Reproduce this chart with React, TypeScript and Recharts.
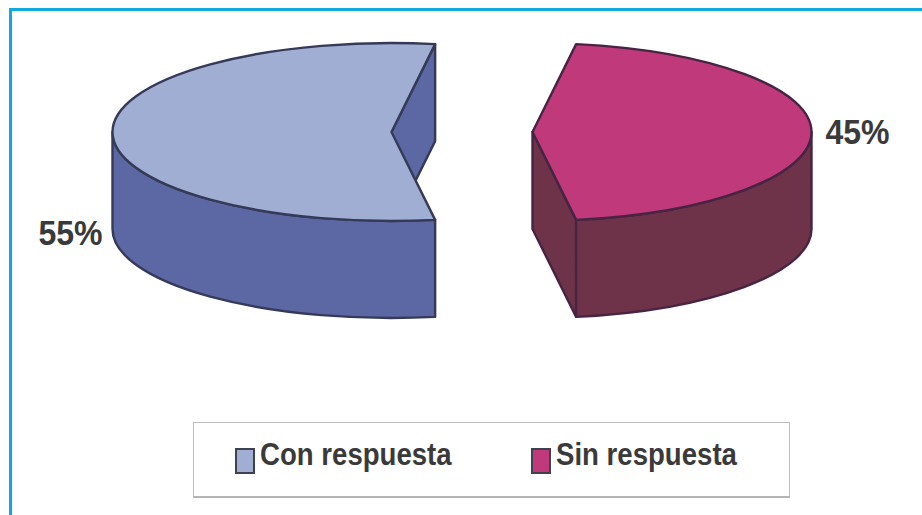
import React from 'react';
import { PieChart, Pie, Cell, Legend } from 'recharts';

const categories = ['Con respuesta', 'Sin respuesta'];
const values = [55, 45];

const COLORS = ['#9FAED2', '#C0397B'];
const SIDE_COLORS: Record<string, string> = { '#9FAED2': '#5C68A4', '#C0397B': '#6E3349' };
const EDGE_COLORS: Record<string, string> = { '#9FAED2': '#363A58', '#C0397B': '#472443' };
const SWATCH_LEFT = [41, 337];
const TEXT_LEFT = [66, 362];

const chartData = categories.map((name, i) => ({ name, value: values[i] }));

const SQUASH = 89 / 279;
const DEPTH = 97;
const EXPLODE = 70.5;
const RAD = Math.PI / 180;

// flat circle -> tilted disc, extruded downwards
function SliceShape(props: any) {
  const { cx, cy, startAngle, endAngle, outerRadius, fill } = props;
  const rx = outerRadius;
  const ry = outerRadius * SQUASH;
  const mid = ((startAngle + endAngle) / 2) * RAD;
  const ox = cx + EXPLODE * Math.cos(mid);
  const oy = cy - EXPLODE * Math.sin(mid) * SQUASH;
  const at = (deg: number) => [ox + rx * Math.cos(deg * RAD), oy - ry * Math.sin(deg * RAD)];
  const side = SIDE_COLORS[fill];
  const edge = EDGE_COLORS[fill];

  const [sx, sy] = at(startAngle);
  const [ex, ey] = at(endAngle);
  const large = endAngle - startAngle > 180 ? 1 : 0;
  const top = `M${ox},${oy} L${sx},${sy} A${rx},${ry} 0 ${large} 0 ${ex},${ey} Z`;

  const wallFrom = Math.max(startAngle, 180);
  const wallTo = Math.min(endAngle, 360);
  const [ax, ay] = at(wallFrom);
  const [bx, by] = at(wallTo);
  const wall = `M${ax},${ay} A${rx},${ry} 0 0 0 ${bx},${by} L${bx},${by + DEPTH} A${rx},${ry} 0 0 1 ${ax},${ay + DEPTH} Z`;

  // the cut faces that look towards the viewer
  const cut = (x: number, y: number) =>
    `M${ox},${oy} L${x},${y} L${x},${y + DEPTH} L${ox},${oy + DEPTH} Z`;
  const faces: string[] = [];
  if (Math.cos(startAngle * RAD) > 0) faces.push(cut(sx, sy));
  if (Math.cos(endAngle * RAD) < 0) faces.push(cut(ex, ey));

  return (
    <g stroke={edge} strokeWidth={2.4} strokeLinejoin="round">
      {faces.map((d, i) => (
        <path key={i} d={d} fill={side} />
      ))}
      <path d={wall} fill={side} />
      <path d={top} fill={fill} />
    </g>
  );
}

function PercentLabel(props: any) {
  const { cx, cy, midAngle, outerRadius, percent } = props;
  const isLeft = Math.cos(midAngle * RAD) < 0;
  const x = isLeft ? cx - EXPLODE - outerRadius - 10 : cx + EXPLODE + outerRadius + 14;
  const y = isLeft ? cy + 100 : cy - 1;
  return (
    <text
      transform={`translate(${x} ${y}) scale(0.89 1)`}
      textAnchor={isLeft ? 'end' : 'start'}
      dominantBaseline="central"
      fontFamily="Liberation Sans"
      fontWeight={700}
      fontSize={36}
      fill="#3A3A3A"
      stroke="none"
    >
      {`${Math.round(percent * 100)}%`}
    </text>
  );
}

function LegendBox({ payload }: any) {
  return (
    <div
      style={{
        position: 'relative',
        width: 595,
        height: 73,
        background: '#fff',
        border: '1px solid #BDBDBD',
        borderBottom: '2px solid #B5B5B5',
        fontFamily: 'Liberation Sans',
        fontWeight: 700,
        fontSize: 31,
        color: '#3A3A3A',
      }}
    >
      {(payload || []).map((entry: any, i: number) => (
        <React.Fragment key={entry.value}>
          <div
            style={{
              position: 'absolute',
              left: SWATCH_LEFT[i],
              top: 25,
              width: 16,
              height: 22,
              background: entry.color,
              border: '2px solid #3F4050',
            }}
          />
          <span
            style={{
              position: 'absolute',
              left: TEXT_LEFT[i],
              top: 16,
              lineHeight: '32px',
              whiteSpace: 'nowrap',
              transform: 'scaleX(0.89)',
              transformOrigin: 'left center',
            }}
          >
            {entry.value}
          </span>
        </React.Fragment>
      ))}
    </div>
  );
}

export default function App() {
  return (
    <div style={{ position: 'absolute', left: 0, top: 0, width: 922, height: 515, background: '#fff', overflow: 'hidden' }}>
      <div style={{ position: 'absolute', left: 9, top: 8, width: 913, height: 3, background: '#0FA9E0' }} />
      <div style={{ position: 'absolute', left: 9, top: 8, width: 3, height: 507, background: '#0FA9E0' }} />
      <PieChart
        width={922}
        height={515}
        margin={{ top: 0, right: 0, bottom: 0, left: 0 }}
        style={{ position: 'absolute', left: 0, top: 0 }}
      >
        <Pie
          data={chartData}
          dataKey="value"
          nameKey="name"
          cx={462}
          cy={132}
          outerRadius={279}
          startAngle={81}
          endAngle={441}
          stroke="none"
          shape={SliceShape}
          label={PercentLabel}
          labelLine={false}
          isAnimationActive={false}
        >
          {chartData.map((d, i) => (
            <Cell key={d.name} fill={COLORS[i]} />
          ))}
        </Pie>
        <Legend
          content={LegendBox}
          wrapperStyle={{ position: 'absolute', left: 193, top: 422, width: 597, height: 76, bottom: 'auto' }}
        />
      </PieChart>
    </div>
  );
}
